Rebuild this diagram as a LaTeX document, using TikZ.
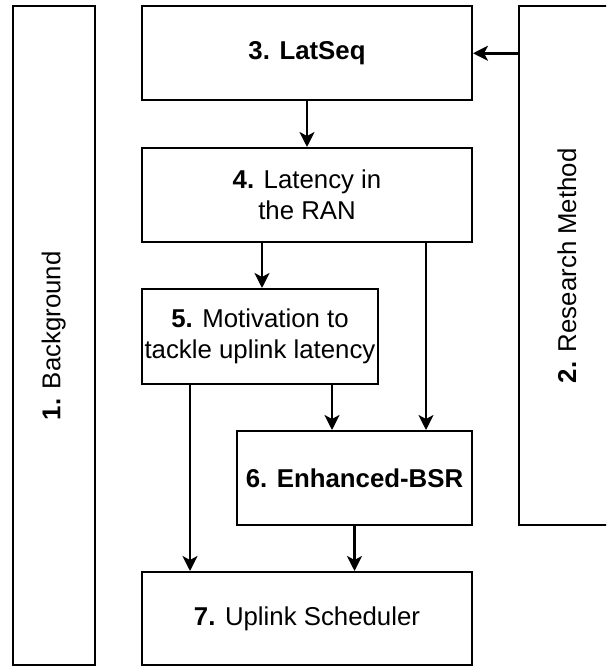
\documentclass[tikz,border=0pt]{standalone}
\usepackage{fontspec}
\setmainfont{Liberation Sans}
\usepackage{tikz}
\usetikzlibrary{arrows.meta, positioning}
\tikzstyle{chapter} = [rectangle, draw=black, line width=2pt, inner sep=0pt, text centered, align=center, font=\fontsize{25.8}{30.5}\selectfont]
\tikzstyle{side} = [chapter, rotate=90]
\tikzstyle{arrow} = [line width=2.6pt, -{Stealth[length=15pt, width=15pt, inset=4pt]}]

\begin{document}
\begin{tikzpicture}[x=1pt, y=-1pt]
\useasboundingbox (0,0) rectangle (606,666);
\clip (0,0) rectangle (606,666);

% Side columns
\node (background) [side, minimum width=658.5pt, minimum height=82.5pt] at (53.75,335.75) {\textbf{1.} Background};
\node (method) [side, minimum width=518.5pt, minimum height=96pt] at (567,265.75) {\textbf{2.} Research Method};

% Chapters
\node (latseq) [chapter, minimum width=330pt, minimum height=93.5pt] at (307,53.25) {\textbf{3. LatSeq}};
\node (ran) [chapter, minimum width=330pt, minimum height=94pt, below=46pt of latseq] {\textbf{4.} Latency in\\the RAN};
\node (motiv) [chapter, minimum width=236pt, minimum height=95pt, below=45pt of ran.south west, anchor=north west] {\textbf{5.} Motivation to\\tackle uplink latency};
\node (ebsr) [chapter, minimum width=235pt, minimum height=94pt] at (354.5,478) {\textbf{6. Enhanced-BSR}};
\node (sched) [chapter, minimum width=330pt, minimum height=93pt] at (307,618.5) {\textbf{7.} Uplink Scheduler};

% Branch points
\coordinate (ranL) at ([xshift=-45pt]ran.south);
\coordinate (ranR) at ([xshift=119pt]ran.south);
\coordinate (motivL) at ([xshift=-70pt]motiv.south);
\coordinate (motivR) at ([xshift=72pt]motiv.south);

% Flows
\draw [arrow] (method.north |- latseq.east) -- (latseq.east);
\draw [arrow] (latseq.south) -- (ran.north);
\draw [arrow] (ranL) -- (ranL |- motiv.north);
\draw [arrow] (ranR) -- (ranR |- ebsr.north);
\draw [arrow] (motivR) -- (motivR |- ebsr.north);
\draw [arrow] (motivL) -- (motivL |- sched.north);
\draw [arrow] (ebsr.south) -- (ebsr.south |- sched.north);

\end{tikzpicture}
\end{document}
